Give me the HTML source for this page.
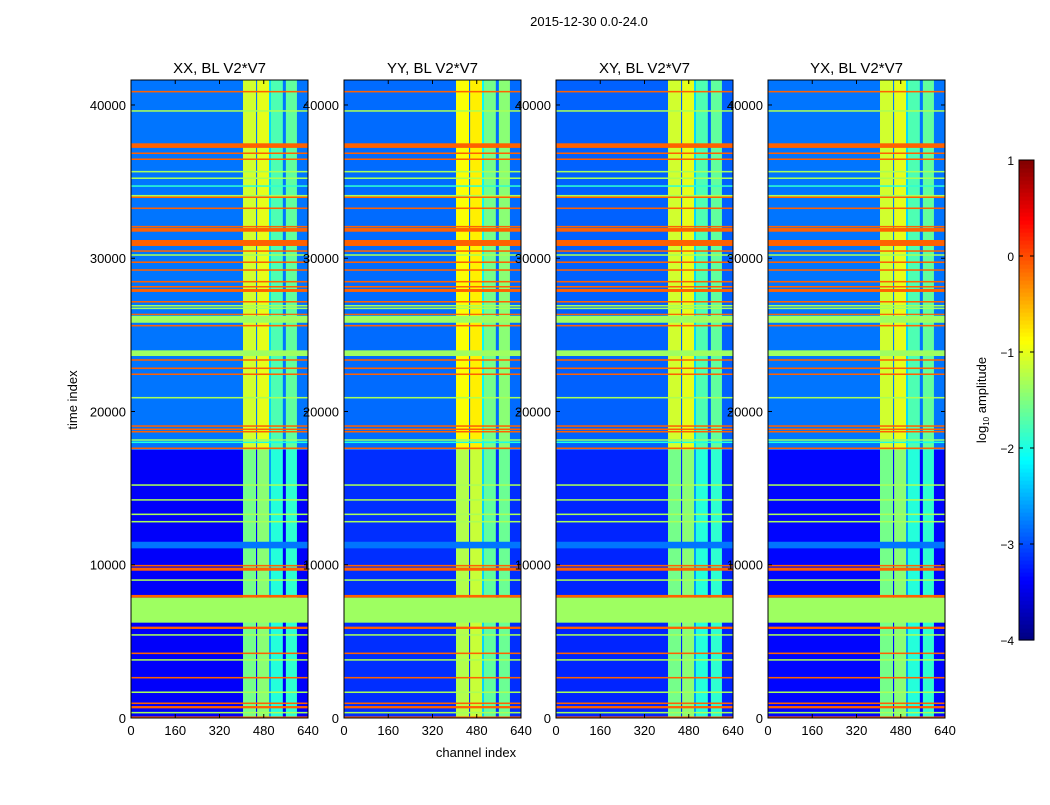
<!DOCTYPE html>
<html><head><meta charset="utf-8"><style>
body{margin:0;background:#fff;font-family:"Liberation Sans",sans-serif}
svg text{font-family:"Liberation Sans",sans-serif;fill:#000}
</style></head><body>
<svg id="fig" width="1050" height="800" xmlns="http://www.w3.org/2000/svg">
<rect width="1050" height="800" fill="#fff"/>
<text x="589" y="26" font-size="13" text-anchor="middle">2015-12-30 0.0-24.0</text>
<text x="476" y="757" font-size="13" text-anchor="middle">channel index</text>
<text transform="translate(77,400) rotate(-90)" font-size="13" text-anchor="middle">time index</text>
<g id="panels"></g>
<g id="cbar"></g>
</svg>
<script>
const panelTitles=["XX, BL V2*V7","YY, BL V2*V7","XY, BL V2*V7","YX, BL V2*V7"];
const panelLeft=[131,344,556,768];
const xTicks=[0,160,320,480,640];
const yTicks=[0,10000,20000,30000,40000];
const cbTicks=[1,0,-1,-2,-3,-4];
// background regions per panel (log10 amplitude)
const bgUpper=[-2.8,-2.85,-2.9,-2.8];
const bgLower=[-3.4,-3.15,-3.2,-3.35];
const bgSplit=17500;
// vertical bright channel stripes: [c0,c1,upperValue,lowerValue]
const stripes=[[405,452,-1.1,-1.55],[456,499,-1.0,-1.45],[499,506,-2.3,-2.6],[506,549,-1.75,-1.95],[560,600,-1.65,-1.9]];
// horizontal RFI lines: [t0,t1,value]
const hlines=[
[40820,40920,-0.1],[39560,39660,-1.3],[37200,37500,-0.1],[36800,36900,-0.1],[36410,36510,-0.1],
[35600,35700,-1.3],[35170,35270,-1.3],[34660,34760,-1.9],[34030,34130,-1.3],[33930,34030,-0.1],
[33210,33310,-0.1],[32010,32110,-0.1],[31730,31970,-0.1],[30800,31190,-0.1],[30420,30520,-0.1],
[30160,30260,-1.3],[29690,29790,-0.1],[29180,29280,-0.1],[28420,28520,-0.1],[28090,28190,-0.1],
[27800,27990,-0.1],[27110,27210,-0.1],[26850,26950,-1.3],[26680,26780,-1.3],[26300,26380,-0.1],
[25790,26250,-1.35],[25550,25650,-0.1],[23620,23990,-1.35],[23310,23410,-0.1],[22770,22870,-0.1],
[22380,22480,-0.1],[20850,20950,-1.3],[19000,19100,-0.1],[18790,18890,-0.1],[18630,18730,-0.1],
[18090,18190,-1.4],[17940,18040,-2.0],[17550,17650,-0.1],[15150,15250,-1.3],[14180,14280,-1.3],
[13240,13340,-1.3],[12760,12860,-1.3],[11070,11500,-2.8],[9890,9990,-0.1],[9610,9810,-0.1],
[8950,9050,-1.3],[7850,8030,-0.1],[6220,7850,-1.35],[5810,5960,-0.1],[5370,5470,-1.3],
[4170,4270,-0.1],[3740,3840,-1.3],[2580,2680,-0.1],[1630,1730,-1.3],[910,1010,-0.1],
[630,780,-0.1],[300,400,-1.3],[0,100,-0.1]];
const TMAX=41630, CMAX=640, PW=177, PT=80, PB=718;
function jet(v){const x=Math.max(0,Math.min(1,(v+4)/5));const c=f=>Math.round(255*Math.max(0,Math.min(1,f)));
return `rgb(${c(1.5-Math.abs(4*x-3))},${c(1.5-Math.abs(4*x-2))},${c(1.5-Math.abs(4*x-1))})`;}
const NS="http://www.w3.org/2000/svg";
function mk(tag,attrs,parent){const e=document.createElementNS(NS,tag);for(const k in attrs)e.setAttribute(k,attrs[k]);parent.appendChild(e);return e;}
const yS=t=>PB-(t/TMAX)*(PB-PT);
const root=document.getElementById('panels');
panelTitles.forEach((title,p)=>{
  const L=panelLeft[p]; const xS=c=>L+c/CMAX*PW;
  const g=mk('g',{},root);
  
  
  const r1=mk('rect',{x:L,y:yS(TMAX),width:PW,height:yS(bgSplit)-yS(TMAX),fill:jet(bgUpper[p])},g);
  
  
  const r2=mk('rect',{x:L,y:yS(bgSplit),width:PW,height:yS(0)-yS(bgSplit),fill:jet(bgLower[p])},g);
  
  
  stripes.forEach(s=>{
    const a=mk('rect',{x:xS(s[0]),y:yS(TMAX),width:xS(s[1])-xS(s[0]),height:yS(bgSplit)-yS(TMAX),fill:jet(s[2]+(p===1?0.2:0))},g);
    
    
    const b=mk('rect',{x:xS(s[0]),y:yS(bgSplit),width:xS(s[1])-xS(s[0]),height:yS(0)-yS(bgSplit),fill:jet(s[3]+(p===1?0.3:0))},g);
    
    
  });
  hlines.forEach(h=>{
    const y0=yS(h[1]),y1=yS(h[0]);
    const l=mk('rect',{x:L,y:y0,width:PW,height:Math.max(1,y1-y0),fill:jet(h[2])},g);
    
    
  });
  mk('rect',{x:L,y:PT,width:PW,height:PB-PT,fill:'none',stroke:'#000','stroke-width':1},g);
  const tt=mk('text',{x:L+PW/2,y:73,'font-size':15,'text-anchor':'middle'},g);tt.textContent=title;
  
  
  xTicks.forEach(c=>{const x=xS(c);
    mk('line',{x1:x,x2:x,y1:PB,y2:PB-4,stroke:'#000'},g);mk('line',{x1:x,x2:x,y1:PT,y2:PT+4,stroke:'#000'},g);
    const t=mk('text',{x:x,y:PB+17,'font-size':13,'text-anchor':'middle'},g);t.textContent=c;
    
    });
  yTicks.forEach(v=>{const y=yS(v);
    mk('line',{x1:L,x2:L+4,y1:y,y2:y,stroke:'#000'},g);mk('line',{x1:L+PW,x2:L+PW-4,y1:y,y2:y,stroke:'#000'},g);
    const t=mk('text',{x:L-5,y:y+5,'font-size':13,'text-anchor':'end'},g);t.textContent=v;
    
    });
});
// colorbar
const cb=document.getElementById('cbar');
const CX=1019,CW=15,CT=160,CB=640;
const cy=v=>CB-(v+4)/5*(CB-CT);
for(let i=0;i<120;i++){const v0=-4+i*5/120;mk('rect',{x:CX,y:cy(v0+5/120),width:CW,height:(CB-CT)/120+0.6,fill:jet(v0+2.5/120)},cb);}
mk('rect',{x:CX,y:CT,width:CW,height:CB-CT,fill:'none',stroke:'#000'},cb);
cbTicks.forEach(v=>{const y=cy(v);mk('line',{x1:CX,x2:CX+4,y1:y,y2:y,stroke:'#000'},cb);mk('line',{x1:CX+CW,x2:CX+CW-4,y1:y,y2:y,stroke:'#000'},cb);
  const t=mk('text',{x:CX-5,y:y+5,'font-size':12,'text-anchor':'end'},cb);t.textContent=v<0?'\u2212'+(-v):v;
  
  });
const lab=mk('text',{transform:'translate(986,400) rotate(-90)','font-size':13,'text-anchor':'middle'},cb);
lab.innerHTML='log<tspan font-size="8" dy="3">10</tspan><tspan dy="-3"> amplitude</tspan>';


</script>
</body></html>
